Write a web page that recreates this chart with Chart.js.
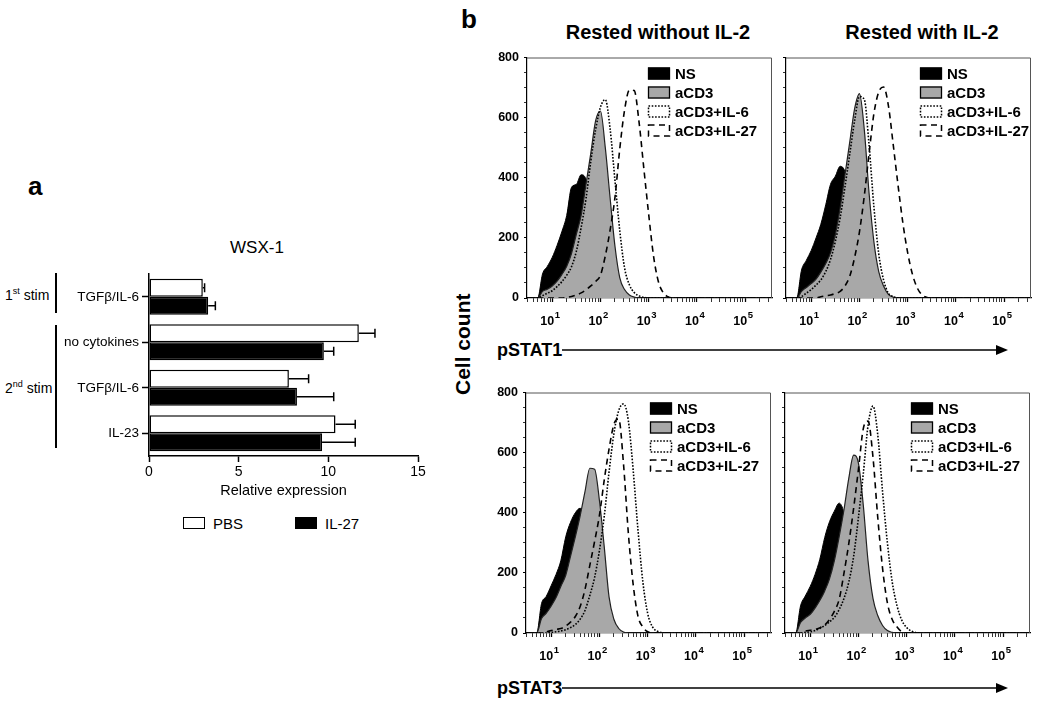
<!DOCTYPE html>
<html>
<head>
<meta charset="utf-8">
<script src="https://cdn.jsdelivr.net/npm/chart.js@4.4.1/dist/chart.umd.min.js"></script>
<style>
  html, body { margin: 0; padding: 0; background: #fff; }
  body { width: 1050px; height: 713px; position: relative; overflow: hidden;
         font-family: "Liberation Sans", Arial, sans-serif; color: #000; }
  canvas { position: absolute; }
  .t { position: absolute; white-space: nowrap; line-height: 1; }
  .b { font-weight: bold; }
  .c { transform: translateX(-50%); }
  .vline { position: absolute; width: 2px; background: #000; }
  .sw { position: absolute; width: 22px; height: 12px; border: 1.5px solid #000; box-sizing: border-box; }
  sup { font-size: 9px; vertical-align: 6px; line-height: 0; }
</style>
</head>
<body>

<!-- panel a -->
<div class="t b" style="left:28px; top:173px; font-size:26px;">a</div>
<div class="t c" style="left:257px; top:239px; font-size:17px;">WSX-1</div>
<div class="t" style="left:5px; top:288px; font-size:14px;">1<sup>st</sup> stim</div>
<div class="vline" style="left:55px; top:273px; height:40px;"></div>
<div class="t" style="left:5px; top:381px; font-size:14px;">2<sup>nd</sup> stim</div>
<div class="vline" style="left:55px; top:325px; height:123px;"></div>
<canvas id="barA" width="389" height="237" style="left:49px; top:263px;"></canvas>
<div class="sw" style="left:183px; top:517px; background:#fff;"></div>
<div class="t" style="left:213px; top:516px; font-size:15px;">PBS</div>
<div class="sw" style="left:295px; top:517px; background:#000;"></div>
<div class="t" style="left:325px; top:516px; font-size:15px;">IL-27</div>

<!-- panel b -->
<div class="t b" style="left:461px; top:6px; font-size:26px;">b</div>
<div class="t b c" style="left:658px; top:22px; font-size:20px;">Rested without IL-2</div>
<div class="t b c" style="left:922px; top:22px; font-size:20px;">Rested with IL-2</div>
<div class="t b" style="left:452px; top:343px; font-size:21px; transform:rotate(-90deg); transform-origin:0 0;"><span style="position:relative; left:-52px;">Cell count</span></div>
<canvas id="histTL" width="293" height="293" style="left:485px; top:45px;"></canvas>
<canvas id="histTR" width="293" height="293" style="left:744px; top:45px;"></canvas>
<canvas id="histBL" width="293" height="293" style="left:484px; top:380px;"></canvas>
<canvas id="histBR" width="293" height="293" style="left:743px; top:380px;"></canvas>
<div class="t b" style="left:497px; top:341px; font-size:18px;">pSTAT1</div>
<div class="t b" style="left:497px; top:679px; font-size:18px;">pSTAT3</div>
<svg style="position:absolute; left:0; top:0;" width="1050" height="713">
  <g stroke="#000" stroke-width="1.5" fill="#000">
    <line x1="562" y1="350" x2="998" y2="350"/>
    <polygon points="996,345 1008,350 996,355" stroke="none"/>
    <line x1="562" y1="688" x2="998" y2="688"/>
    <polygon points="996,683 1008,688 996,693" stroke="none"/>
  </g>
</svg>

<script>
// ---------- panel a data ----------
const catsA = ['TGFβ/IL-6', 'no cytokines', 'TGFβ/IL-6', 'IL-23'];
const pbsVals  = [3.0, 11.7, 7.8, 10.4];
const pbsErr   = [0.1, 0.9, 1.1, 1.1];
const il27Vals = [3.3, 9.75, 8.25, 9.65];
const il27Err  = [0.4, 0.55, 2.05, 1.85];
const relTicks = [0, 5, 10, 15];

// ---------- panel b data (fluorescence intensity, cell count) ----------
const fluor = [3, 5, 6.3, 7.9, 10, 12.6, 15.8, 20, 25.1, 31.6, 39.8, 50.1, 63.1, 79.4, 100,
  126, 158, 200, 251, 316, 398, 501, 631, 794, 1000, 1259, 1585, 1995, 2512, 3162, 300000];
const decades = [1, 2, 3, 4, 5];
const seriesNames = ['NS', 'aCD3', 'aCD3+IL-6', 'aCD3+IL-27'];

// pSTAT1, rested without IL-2
const tlNS   = [0,0,80,105,135,175,220,275,368,378,410,395,300,200,110,50,18,5,0,0,0,0,0,0,0,0,0,0,0,0,0];
const tlCD3  = [0,0,22,29,40,56,78,106,148,212,275,378,482,590,622,500,335,172,68,28,10,3,0,0,0,0,0,0,0,0,0];
const tlIL6  = [0,0,8,16,24,38,54,76,104,155,235,330,455,560,635,660,565,390,225,100,44,18,7,2,0,0,0,0,0,0,0];
const tlIL27 = [0,0,0,0,0,0,0,2,5,10,17,27,40,55,76,140,225,335,495,625,692,690,585,430,278,140,55,18,4,0,0];
// pSTAT1, rested with IL-2
const trNS   = [0,0,93,125,158,200,245,310,378,405,438,420,340,230,120,50,15,0,0,0,0,0,0,0,0,0,0,0,0,0,0];
const trCD3  = [0,0,22,35,48,63,86,115,150,210,300,410,520,630,680,560,350,185,88,40,12,3,0,0,0,0,0,0,0,0,0];
const trIL6  = [0,0,5,16,28,43,60,88,128,188,267,370,480,590,670,660,510,300,147,60,16,5,0,0,0,0,0,0,0,0,0];
const trIL27 = [0,0,0,0,0,0,4,7,10,15,22,40,73,135,220,340,480,615,685,702,640,510,375,250,150,78,33,10,2,0,0];
// pSTAT3, rested without IL-2
const blNS   = [0,0,98,122,158,195,240,320,368,400,415,370,280,180,90,35,10,0,0,0,0,0,0,0,0,0,0,0,0,0,0];
const blCD3  = [0,0,48,66,90,118,155,192,255,320,390,470,548,545,440,285,120,45,15,3,0,0,0,0,0,0,0,0,0,0,0];
const blIL6  = [0,0,0,0,2,4,7,11,18,28,46,75,125,185,275,390,535,665,740,762,705,540,340,170,65,20,6,1,0,0,0];
const blIL27 = [0,0,0,4,8,12,15,23,36,55,88,145,225,305,392,510,612,695,712,560,330,160,55,20,4,0,0,0,0,0,0];
// pSTAT3, rested with IL-2
const brNS   = [0,0,90,123,155,195,245,318,370,405,432,400,310,200,100,40,12,0,0,0,0,0,0,0,0,0,0,0,0,0,0];
const brCD3  = [0,0,35,50,62,83,108,140,180,240,320,410,515,592,564,425,240,115,58,25,8,2,0,0,0,0,0,0,0,0,0];
const brIL6  = [0,0,0,2,4,8,15,25,37,52,78,115,170,255,385,530,690,755,660,470,300,170,90,42,18,6,1,0,0,0,0];
const brIL27 = [0,0,0,6,9,12,17,27,45,72,112,199,298,415,545,680,705,585,385,215,100,45,20,4,0,0,0,0,0,0,0];

const FONT = '"Liberation Sans", Arial, sans-serif';
Chart.defaults.font.family = FONT;
Chart.defaults.color = '#000';

// ---------- plugins ----------
// error bars (positive side only, with cap)
const errorBars = {
  id: 'errorBars',
  afterDatasetsDraw(chart) {
    const { ctx, scales: { x } } = chart;
    chart.data.datasets.forEach((ds, di) => {
      chart.getDatasetMeta(di).data.forEach((bar, i) => {
        const x0 = x.getPixelForValue(ds.data[i]);
        const x1 = x.getPixelForValue(ds.data[i] + ds.errors[i]);
        ctx.save();
        ctx.strokeStyle = '#000';
        ctx.lineWidth = 1.5;
        ctx.beginPath();
        ctx.moveTo(x0, bar.y); ctx.lineTo(x1, bar.y);
        ctx.moveTo(x1, bar.y - 4.5); ctx.lineTo(x1, bar.y + 4.5);
        ctx.stroke();
        ctx.restore();
      });
    });
  }
};

// top + right edge of the histogram box
const boxFrame = {
  id: 'boxFrame',
  afterDraw(chart) {
    const { ctx, chartArea: a } = chart;
    ctx.save();
    ctx.strokeStyle = '#555';
    ctx.lineWidth = 1;
    ctx.beginPath();
    ctx.moveTo(a.left, a.top + 0.5); ctx.lineTo(a.right - 0.5, a.top + 0.5); ctx.lineTo(a.right - 0.5, a.bottom);
    ctx.stroke();
    ctx.restore();
  }
};

// 10^n labels on the log axis
const powerLabels = {
  id: 'powerLabels',
  afterDraw(chart) {
    const { ctx, scales: { x } } = chart;
    ctx.save();
    ctx.fillStyle = '#000';
    ctx.textBaseline = 'alphabetic';
    decades.forEach(p => {
      const px = x.getPixelForValue(Math.pow(10, p));
      ctx.font = 'bold 12.5px ' + FONT;
      ctx.textAlign = 'right';
      ctx.fillText('10', px + 2, x.top + 27);
      ctx.font = 'bold 9.5px ' + FONT;
      ctx.textAlign = 'left';
      ctx.fillText(String(p), px + 2.5, x.top + 20);
    });
    ctx.restore();
  }
};

// legend inside the plot
const flowLegend = {
  id: 'flowLegend',
  afterDraw(chart, args, opts) {
    const { ctx, chartArea: a } = chart;
    ctx.save();
    ctx.textBaseline = 'middle';
    ctx.font = 'bold 15px ' + FONT;
    chart.data.datasets.forEach((ds, i) => {
      const x = a.right - opts.fromRight;
      const y = a.top + 16 + i * 19;
      if (ds.fill) {
        ctx.fillStyle = ds.backgroundColor;
        ctx.fillRect(x, y - 6, 22, 12);
      }
      ctx.strokeStyle = '#000';
      ctx.lineWidth = ds.fill ? 1.3 : 1.5;
      ctx.setLineDash(ds.borderDash || []);
      ctx.strokeRect(x + 0.5, y - 5.5, 21, 11);
      ctx.setLineDash([]);
      ctx.fillStyle = '#000';
      ctx.fillText(ds.label, x + 27, y + 1);
    });
    ctx.restore();
  }
};

// ---------- panel a: horizontal bars ----------
new Chart(document.getElementById('barA'), {
  type: 'bar',
  data: {
    labels: catsA,
    datasets: [
      { label: 'PBS', data: pbsVals, errors: pbsErr, backgroundColor: '#fff', borderColor: '#000',
        borderWidth: 1.5, borderSkipped: false },
      { label: 'IL-27', data: il27Vals, errors: il27Err, backgroundColor: '#000', borderColor: '#000',
        borderWidth: 1.5, borderSkipped: false }
    ]
  },
  options: {
    indexAxis: 'y',
    responsive: false,
    animation: false,
    events: [],
    categoryPercentage: 0.79,
    barPercentage: 1.0,
    layout: { padding: { top: 10, right: 20, left: 0, bottom: 0 } },
    plugins: { legend: { display: false }, tooltip: { enabled: false } },
    scales: {
      x: {
        min: 0, max: 15,
        afterBuildTicks: s => { s.ticks = relTicks.map(v => ({ value: v })); },
        afterFit: s => { s.height = 44; },
        ticks: { font: { size: 14 }, padding: 2, maxRotation: 0 },
        grid: { drawOnChartArea: false, tickLength: 6, color: '#000', tickWidth: 1.5 },
        border: { color: '#000', width: 1.5 },
        title: { display: true, text: 'Relative expression', font: { size: 14.5 }, padding: 0 }
      },
      y: {
        afterFit: s => { s.width = 100; },
        ticks: { font: { size: 13.5 }, padding: 3 },
        grid: { offset: false, drawOnChartArea: false, tickLength: 7, color: '#000', tickWidth: 1.5 },
        border: { color: '#000', width: 1.5 }
      }
    }
  },
  plugins: [errorBars]
});

// ---------- panel b: histograms ----------
function logTickValues() {
  const out = [];
  for (let k = 0; k <= 5; k++) {
    for (let n = 1; n <= 9; n++) {
      const v = n * Math.pow(10, k);
      if (v >= 3 && v <= 360000) out.push(v);
    }
  }
  return out;
}
const isPow10 = v => Math.abs(Math.log10(v) - Math.round(Math.log10(v))) < 1e-9;

function histChart(id, ns, cd3, il6, il27, showY, legendFromRight) {
  const pts = ys => fluor.map((x, i) => ({ x, y: ys[i] }));
  return new Chart(document.getElementById(id), {
    type: 'line',
    data: {
      datasets: [
        { label: seriesNames[0], data: pts(ns), borderColor: '#000', backgroundColor: '#000',
          fill: 'origin', borderWidth: 1, order: 4 },
        { label: seriesNames[1], data: pts(cd3), borderColor: '#222', backgroundColor: '#a8a8a8',
          fill: 'origin', borderWidth: 1.2, order: 3 },
        { label: seriesNames[2], data: pts(il6), borderColor: '#000', fill: false,
          borderWidth: 1.6, borderDash: [1.6, 1.6], order: 2 },
        { label: seriesNames[3], data: pts(il27), borderColor: '#000', fill: false,
          borderWidth: 1.6, borderDash: [6, 4.5], order: 1 }
      ]
    },
    options: {
      responsive: false,
      animation: false,
      events: [],
      layout: { padding: { top: 8, right: 6, left: 0, bottom: 0 } },
      elements: { point: { radius: 0 }, line: { cubicInterpolationMode: 'monotone' } },
      plugins: {
        legend: { display: false }, tooltip: { enabled: false },
        flowLegend: { fromRight: legendFromRight }
      },
      scales: {
        x: {
          type: 'logarithmic', min: 3, max: 360000,
          afterBuildTicks: s => { s.ticks = logTickValues().map(v => ({ value: v })); },
          afterFit: s => { s.height = 40; },
          ticks: { autoSkip: false, maxRotation: 0, callback: () => '' },
          grid: { drawOnChartArea: false, tickLength: 4, color: '#000',
                  tickWidth: c => (c.tick && isPow10(c.tick.value)) ? 1.3 : 0.8 },
          border: { color: '#000', width: 1.2 }
        },
        y: {
          min: 0, max: 800,
          afterBuildTicks: s => {
            const t = [];
            for (let v = 0; v <= 800; v += 50) t.push({ value: v });
            s.ticks = t;
          },
          afterFit: s => { s.width = 42; },
          ticks: { autoSkip: false, padding: 5, font: { size: 12.5, weight: 'bold' },
                   callback: v => (showY && v % 200 === 0) ? v : '' },
          grid: { drawOnChartArea: false, tickLength: 3, color: '#000',
                  tickWidth: c => (c.tick && c.tick.value % 200 === 0) ? 1.2 : 0.8 },
          border: { color: '#000', width: 1.2 }
        }
      }
    },
    plugins: [boxFrame, powerLabels, flowLegend]
  });
}

histChart('histTL', tlNS, tlCD3, tlIL6, tlIL27, true, 124);
histChart('histTR', trNS, trCD3, trIL6, trIL27, false, 111);
histChart('histBL', blNS, blCD3, blIL6, blIL27, true, 121);
histChart('histBR', brNS, brCD3, brIL6, brIL27, false, 119);
</script>
</body>
</html>
